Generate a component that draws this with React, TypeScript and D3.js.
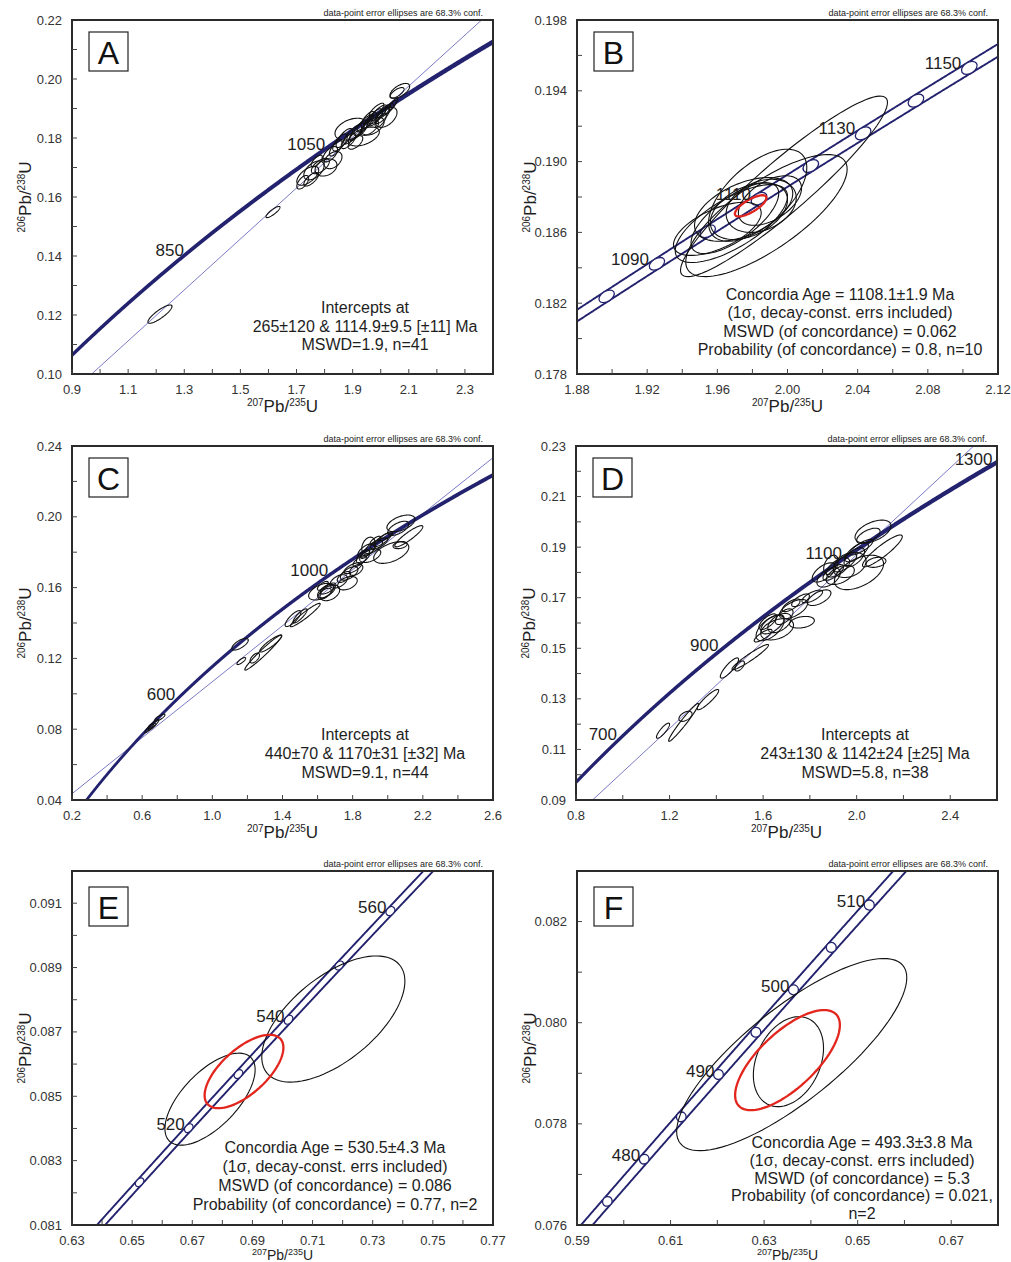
import React from "react";
import * as d3 from "d3";

// ---- decay constants (concordia definition) ----
const LAMBDA_238 = 1.55125e-10;
const LAMBDA_235 = 9.8485e-10;
const LAMBDA_235_ERR = 1.65e-12;

// ================= Panel A =================
const A_X_DOMAIN = [0.9, 2.4];
const A_Y_DOMAIN = [0.1, 0.22];
const A_X_TICKS = [0.9, 1.0, 1.1, 1.2, 1.3, 1.4, 1.5, 1.6, 1.7, 1.8, 1.9, 2.0, 2.1, 2.2, 2.3];
const A_X_LABELS = [0.9, 1.1, 1.3, 1.5, 1.7, 1.9, 2.1, 2.3];
const A_Y_TICKS = [0.11, 0.12, 0.13, 0.14, 0.15, 0.16, 0.17, 0.18, 0.19, 0.2, 0.21];
const A_Y_LABELS = [0.1, 0.12, 0.14, 0.16, 0.18, 0.2, 0.22];
const A_AGE_LABELS = [850, 1050];
const A_INTERCEPTS = [265, 1114.9];
const A_ELLIPSES = [
  [1.2135, 0.1203, 0.043, 0.0031, 0.85],
  [1.616, 0.1549, 0.025, 0.0019, 0.85],
  [1.722, 0.165, 0.021, 0.0023, 0.6],
  [1.74, 0.1672, 0.039, 0.0032, 0.6],
  [1.752, 0.166, 0.026, 0.0023, 0.7],
  [1.762, 0.169, 0.036, 0.0032, 0.5],
  [1.785, 0.1705, 0.032, 0.0026, 0.6],
  [1.772, 0.1722, 0.02, 0.002, 0.7],
  [1.805, 0.17, 0.039, 0.0029, 0.3],
  [1.83, 0.1725, 0.032, 0.0029, 0.4],
  [1.82, 0.1745, 0.026, 0.0026, 0.6],
  [1.84, 0.1765, 0.023, 0.0026, 0.7],
  [1.855, 0.1785, 0.026, 0.0029, 0.7],
  [1.87, 0.18, 0.029, 0.0032, 0.75],
  [1.894, 0.183, 0.057, 0.0037, 0.4],
  [1.885, 0.179, 0.026, 0.0026, 0.7],
  [1.9, 0.1812, 0.032, 0.0032, 0.8],
  [1.915, 0.182, 0.026, 0.0029, 0.8],
  [1.94, 0.1805, 0.055, 0.0032, 0.5],
  [1.93, 0.1835, 0.026, 0.0026, 0.75],
  [1.945, 0.185, 0.029, 0.0029, 0.8],
  [1.955, 0.187, 0.02, 0.002, 0.8],
  [1.962, 0.186, 0.023, 0.0026, 0.8],
  [1.972, 0.184, 0.04, 0.003, 0.5],
  [1.98, 0.187, 0.026, 0.0029, 0.7],
  [1.99, 0.188, 0.032, 0.0032, 0.8],
  [2.0, 0.186, 0.02, 0.0023, 0.7],
  [2.005, 0.1875, 0.026, 0.0026, 0.75],
  [2.02, 0.187, 0.038, 0.0034, 0.5],
  [2.012, 0.189, 0.023, 0.0023, 0.8],
  [2.025, 0.1897, 0.02, 0.002, 0.8],
  [2.035, 0.1905, 0.02, 0.0023, 0.85],
  [2.045, 0.1915, 0.016, 0.002, 0.85],
  [2.068, 0.196, 0.035, 0.0025, 0.6],
  [2.058, 0.1953, 0.025, 0.0018, 0.7],
  [1.985, 0.1895, 0.026, 0.0023, 0.8],
  [1.96, 0.1835, 0.032, 0.0026, 0.6],
  [1.91, 0.1785, 0.026, 0.0023, 0.6],
];
const A_NOTE = ["Intercepts at", "265\u00b1120 & 1114.9\u00b19.5 [\u00b111] Ma", "MSWD=1.9, n=41"];

// ================= Panel B =================
const B_X_DOMAIN = [1.88, 2.12];
const B_Y_DOMAIN = [0.178, 0.198];
const B_X_TICKS = [1.88, 1.9, 1.92, 1.94, 1.96, 1.98, 2.0, 2.02, 2.04, 2.06, 2.08, 2.1];
const B_X_LABELS = [1.88, 1.92, 1.96, 2.0, 2.04, 2.08, 2.12];
const B_Y_TICKS = [0.18, 0.182, 0.184, 0.186, 0.188, 0.19, 0.192, 0.194, 0.196];
const B_Y_LABELS = [0.178, 0.182, 0.186, 0.19, 0.194, 0.198];
const B_MARKER_AGES = [1080, 1090, 1100, 1110, 1120, 1130, 1140, 1150];
const B_AGE_LABELS = [1090, 1110, 1130, 1150];
const B_ELLIPSES = [
  [1.998, 0.1886, 0.059, 0.0051, 0.93],
  [1.988, 0.18695, 0.046, 0.00345, 0.76],
  [1.983, 0.1881, 0.028, 0.0026, 0.6],
  [1.975, 0.1873, 0.028, 0.0018, 0.5],
  [1.978, 0.1872, 0.022, 0.0016, 0.4],
  [1.985, 0.1875, 0.02, 0.0015, 0.3],
  [1.97, 0.1868, 0.025, 0.002, 0.7],
  [1.968, 0.1865, 0.032, 0.0022, 0.7],
  [1.96, 0.1862, 0.025, 0.0015, 0.6],
  [1.99, 0.1878, 0.018, 0.0014, 0.5],
];
const B_RED = [[1.979, 0.1875, 0.009, 0.0006, 0.75]];
const B_NOTE = [
  "Concordia Age = 1108.1\u00b11.9 Ma",
  "(1\u03c3, decay-const. errs included)",
  "MSWD (of concordance) = 0.062",
  "Probability (of concordance) = 0.8, n=10",
];

// ================= Panel C =================
const C_X_DOMAIN = [0.2, 2.6];
const C_Y_DOMAIN = [0.04, 0.24];
const C_X_TICKS = [0.2, 0.4, 0.6, 0.8, 1.0, 1.2, 1.4, 1.6, 1.8, 2.0, 2.2, 2.4];
const C_X_LABELS = [0.2, 0.6, 1.0, 1.4, 1.8, 2.2, 2.6];
const C_Y_TICKS = [0.06, 0.08, 0.1, 0.12, 0.14, 0.16, 0.18, 0.2, 0.22];
const C_Y_LABELS = [0.04, 0.08, 0.12, 0.16, 0.2, 0.24];
const C_AGE_LABELS = [600, 1000];
const C_INTERCEPTS = [440, 1170];
const C_ELLIPSES = [
  [0.64, 0.0805, 0.025, 0.0025, 0.9],
  [0.665, 0.0825, 0.03, 0.003, 0.9],
  [0.7, 0.0865, 0.03, 0.002, 0.8],
  [0.655, 0.082, 0.02, 0.0015, 0.7],
  [1.158, 0.128, 0.047, 0.0033, 0.7],
  [1.165, 0.1185, 0.025, 0.002, 0.8],
  [1.242, 0.1202, 0.027, 0.0028, 0.6],
  [1.29, 0.1233, 0.105, 0.0099, 0.97],
  [1.333, 0.1284, 0.063, 0.0048, 0.9],
  [1.46, 0.1425, 0.045, 0.0045, 0.8],
  [1.5, 0.144, 0.04, 0.004, 0.85],
  [1.53, 0.1445, 0.085, 0.0066, 0.95],
  [1.62, 0.1577, 0.071, 0.0047, 0.5],
  [1.65, 0.158, 0.05, 0.0038, 0.6],
  [1.66, 0.1595, 0.044, 0.0031, 0.7],
  [1.64, 0.1565, 0.038, 0.0031, 0.6],
  [1.67, 0.157, 0.056, 0.0044, 0.4],
  [1.63, 0.161, 0.031, 0.0025, 0.7],
  [1.72, 0.1635, 0.05, 0.0038, 0.5],
  [1.75, 0.166, 0.038, 0.0031, 0.6],
  [1.77, 0.1625, 0.056, 0.0038, 0.4],
  [1.78, 0.168, 0.05, 0.0038, 0.6],
  [1.8, 0.171, 0.05, 0.0031, 0.7],
  [1.82, 0.17, 0.038, 0.0031, 0.5],
  [1.84, 0.175, 0.038, 0.0031, 0.7],
  [1.86, 0.1775, 0.038, 0.0038, 0.6],
  [1.88, 0.181, 0.05, 0.0038, 0.6],
  [1.89, 0.1835, 0.038, 0.005, 0.3],
  [1.9, 0.178, 0.06, 0.0038, 0.5],
  [1.92, 0.183, 0.05, 0.0038, 0.7],
  [1.95, 0.185, 0.05, 0.0031, 0.7],
  [1.97, 0.187, 0.05, 0.0038, 0.8],
  [1.99, 0.189, 0.038, 0.0025, 0.8],
  [2.02, 0.1798, 0.1, 0.0061, 0.5],
  [2.075, 0.1963, 0.08, 0.0047, 0.5],
  [2.06, 0.1935, 0.06, 0.004, 0.6],
  [2.12, 0.189, 0.08, 0.006, 0.9],
  [2.07, 0.184, 0.04, 0.002, 0.3],
  [1.87, 0.179, 0.025, 0.0025, 0.6],
  [1.93, 0.1865, 0.031, 0.0025, 0.7],
];
const C_NOTE = ["Intercepts at", "440\u00b170 & 1170\u00b131 [\u00b132] Ma", "MSWD=9.1, n=44"];

// ================= Panel D =================
const D_X_DOMAIN = [0.8, 2.6];
const D_Y_DOMAIN = [0.09, 0.23];
const D_X_TICKS = [0.8, 1.0, 1.2, 1.4, 1.6, 1.8, 2.0, 2.2, 2.4];
const D_X_LABELS = [0.8, 1.2, 1.6, 2.0, 2.4];
const D_Y_TICKS = [0.1, 0.11, 0.12, 0.13, 0.14, 0.15, 0.16, 0.17, 0.18, 0.19, 0.2, 0.21, 0.22];
const D_Y_LABELS = [0.09, 0.11, 0.13, 0.15, 0.17, 0.19, 0.21, 0.23];
const D_AGE_LABELS = [700, 900, 1100, 1300];
const D_INTERCEPTS = [243, 1142];
const D_ELLIPSES = [
  [1.172, 0.1174, 0.028, 0.003, 0.85],
  [1.26, 0.1207, 0.064, 0.0075, 0.97],
  [1.268, 0.1231, 0.028, 0.002, 0.5],
  [1.364, 0.1297, 0.046, 0.004, 0.9],
  [1.456, 0.1422, 0.039, 0.004, 0.85],
  [1.545, 0.1465, 0.078, 0.005, 0.95],
  [1.5, 0.143, 0.02, 0.002, 0.6],
  [1.63, 0.158, 0.06, 0.005, 0.6],
  [1.66, 0.1575, 0.07, 0.0042, 0.4],
  [1.64, 0.1595, 0.05, 0.0038, 0.6],
  [1.62, 0.1605, 0.038, 0.0031, 0.7],
  [1.67, 0.16, 0.05, 0.0038, 0.5],
  [1.6, 0.155, 0.038, 0.0025, 0.8],
  [1.73, 0.1655, 0.06, 0.0038, 0.6],
  [1.766, 0.1603, 0.053, 0.0023, 0.3],
  [1.72, 0.167, 0.038, 0.0025, 0.7],
  [1.81, 0.1705, 0.044, 0.0025, 0.7],
  [1.84, 0.17, 0.05, 0.0031, 0.6],
  [1.86, 0.18, 0.05, 0.0038, 0.6],
  [1.88, 0.178, 0.05, 0.0038, 0.5],
  [1.9, 0.18, 0.044, 0.0031, 0.7],
  [1.92, 0.182, 0.05, 0.0038, 0.6],
  [1.93, 0.179, 0.06, 0.0038, 0.5],
  [1.95, 0.184, 0.05, 0.0038, 0.7],
  [1.97, 0.183, 0.07, 0.005, 0.3],
  [1.89, 0.183, 0.031, 0.0038, 0.4],
  [2.01, 0.18, 0.105, 0.0068, 0.5],
  [2.11, 0.1885, 0.085, 0.0063, 0.9],
  [2.083, 0.184, 0.042, 0.002, 0.3],
  [2.07, 0.1962, 0.077, 0.0045, 0.5],
  [2.05, 0.1945, 0.05, 0.003, 0.6],
  [2.0, 0.188, 0.05, 0.0038, 0.7],
  [2.02, 0.19, 0.05, 0.0031, 0.8],
  [1.99, 0.186, 0.044, 0.0038, 0.6],
  [1.76, 0.169, 0.038, 0.0025, 0.7],
  [1.69, 0.1625, 0.038, 0.0031, 0.6],
];
const D_NOTE = ["Intercepts at", "243\u00b1130 & 1142\u00b124 [\u00b125] Ma", "MSWD=5.8, n=38"];

// ================= Panel E =================
const E_X_DOMAIN = [0.63, 0.77];
const E_Y_DOMAIN = [0.081, 0.092];
const E_X_TICKS = [0.63, 0.64, 0.65, 0.66, 0.67, 0.68, 0.69, 0.7, 0.71, 0.72, 0.73, 0.74, 0.75, 0.76];
const E_X_LABELS = [0.63, 0.65, 0.67, 0.69, 0.71, 0.73, 0.75, 0.77];
const E_Y_TICKS = [0.082, 0.083, 0.084, 0.085, 0.086, 0.087, 0.088, 0.089, 0.09, 0.091];
const E_Y_LABELS = [0.081, 0.083, 0.085, 0.087, 0.089, 0.091];
const E_MARKER_AGES = [510, 520, 530, 540, 550, 560];
const E_AGE_LABELS = [520, 540, 560];
const E_ELLIPSES = [
  [0.7169, 0.0874, 0.0238, 0.00196, 0.6],
  [0.6759, 0.08491, 0.015, 0.00143, 0.64],
];
const E_RED = [[0.6872, 0.08577, 0.0131, 0.00114, 0.65]];
const E_NOTE = [
  "Concordia Age = 530.5\u00b14.3 Ma",
  "(1\u03c3, decay-const. errs included)",
  "MSWD (of concordance) = 0.086",
  "Probability (of concordance) = 0.77, n=2",
];

// ================= Panel F =================
const F_X_DOMAIN = [0.59, 0.68];
const F_Y_DOMAIN = [0.076, 0.083];
const F_X_TICKS = [0.59, 0.6, 0.61, 0.62, 0.63, 0.64, 0.65, 0.66, 0.67];
const F_X_LABELS = [0.59, 0.61, 0.63, 0.65, 0.67];
const F_Y_TICKS = [0.077, 0.078, 0.079, 0.08, 0.081, 0.082];
const F_Y_LABELS = [0.076, 0.078, 0.08, 0.082];
const F_MARKER_AGES = [475, 480, 485, 490, 495, 500, 505, 510];
const F_AGE_LABELS = [480, 490, 500, 510];
const F_ELLIPSES = [
  [0.6359, 0.07937, 0.0246, 0.0019, 0.8],
  [0.6352, 0.07923, 0.0075, 0.00089, 0.3],
];
const F_RED = [[0.635, 0.07926, 0.0112, 0.00099, 0.7]];
const F_NOTE = [
  "Concordia Age = 493.3\u00b13.8 Ma",
  "(1\u03c3, decay-const. errs included)",
  "MSWD (of concordance) = 5.3",
  "Probability (of concordance) = 0.021,",
  "n=2",
];

const CONF_TEXT = "data-point error ellipses are 68.3% conf.";

// ---- styles ----
const FONT = "'Liberation Sans', Arial, Helvetica, sans-serif";
const NAVY = "#23226e";
const DISC = "#6b6bbf";
const RED = "#e3261d";
const INK = "#1e1e1e";

const PANELS = [
  {
    id: "A", left: 72, top: 20, letterDy: 12, xDomain: A_X_DOMAIN, yDomain: A_Y_DOMAIN,
    xTicks: A_X_TICKS, xLabels: A_X_LABELS, yTicks: A_Y_TICKS, yLabels: A_Y_LABELS, xDec: 1, yDec: 2,
    ellipses: A_ELLIPSES, red: [], intercepts: A_INTERCEPTS, markerAges: [], labelAges: A_AGE_LABELS,
    note: A_NOTE, noteX: 293, noteY: 293, noteLh: 18.7, labelDx: -3, labelDy: 3, thick: true, markerSemi: 0,
    titleDy: 38, titleSize: 17, titleSup: 10,
  },
  {
    id: "B", left: 577, top: 20, letterDy: 12, xDomain: B_X_DOMAIN, yDomain: B_Y_DOMAIN,
    xTicks: B_X_TICKS, xLabels: B_X_LABELS, yTicks: B_Y_TICKS, yLabels: B_Y_LABELS, xDec: 2, yDec: 3,
    ellipses: B_ELLIPSES, red: B_RED, intercepts: null, markerAges: B_MARKER_AGES, labelAges: B_AGE_LABELS,
    note: B_NOTE, noteX: 263, noteY: 280, noteLh: 18.4, labelDx: -8, labelDy: 1, thick: false, markerSemi: 8.5,
    titleDy: 38, titleSize: 17, titleSup: 10,
  },
  {
    id: "C", left: 72, top: 446, letterDy: 12, xDomain: C_X_DOMAIN, yDomain: C_Y_DOMAIN,
    xTicks: C_X_TICKS, xLabels: C_X_LABELS, yTicks: C_Y_TICKS, yLabels: C_Y_LABELS, xDec: 1, yDec: 2,
    ellipses: C_ELLIPSES, red: [], intercepts: C_INTERCEPTS, markerAges: [], labelAges: C_AGE_LABELS,
    note: C_NOTE, noteX: 293, noteY: 294, noteLh: 18.8, labelDx: -3, labelDy: 2, thick: true, markerSemi: 0,
    titleDy: 38, titleSize: 17, titleSup: 10,
  },
  {
    id: "D", left: 576, top: 446, letterDy: 12, xDomain: D_X_DOMAIN, yDomain: D_Y_DOMAIN,
    xTicks: D_X_TICKS, xLabels: D_X_LABELS, yTicks: D_Y_TICKS, yLabels: D_Y_LABELS, xDec: 1, yDec: 2,
    ellipses: D_ELLIPSES, red: [], intercepts: D_INTERCEPTS, markerAges: [], labelAges: D_AGE_LABELS,
    note: D_NOTE, noteX: 289, noteY: 294, noteLh: 18.8, labelDx: -4, labelDy: 2, thick: true, markerSemi: 0,
    titleDy: 38, titleSize: 17, titleSup: 10,
  },
  {
    id: "E", left: 72, top: 871, letterDy: 16, xDomain: E_X_DOMAIN, yDomain: E_Y_DOMAIN,
    xTicks: E_X_TICKS, xLabels: E_X_LABELS, yTicks: E_Y_TICKS, yLabels: E_Y_LABELS, xDec: 2, yDec: 3,
    ellipses: E_ELLIPSES, red: E_RED, intercepts: null, markerAges: E_MARKER_AGES, labelAges: E_AGE_LABELS,
    note: E_NOTE, noteX: 263, noteY: 281.5, noteLh: 19.3, labelDx: -4, labelDy: 2, thick: false, markerSemi: 5,
    titleDy: 34.5, titleSize: 14, titleSup: 9,
  },
  {
    id: "F", left: 577, top: 871, letterDy: 16, xDomain: F_X_DOMAIN, yDomain: F_Y_DOMAIN,
    xTicks: F_X_TICKS, xLabels: F_X_LABELS, yTicks: F_Y_TICKS, yLabels: F_Y_LABELS, xDec: 2, yDec: 3,
    ellipses: F_ELLIPSES, red: F_RED, intercepts: null, markerAges: F_MARKER_AGES, labelAges: F_AGE_LABELS,
    note: F_NOTE, noteX: 285, noteY: 277, noteLh: 17.75, labelDx: -4, labelDy: 2, thick: false, markerSemi: 5,
    titleDy: 34.5, titleSize: 14, titleSup: 9,
  },
];

const W = 421;
const H = 354;

function conc(t: number, dl = 0): [number, number] {
  return [Math.exp((LAMBDA_235 + dl) * t) - 1, Math.exp(LAMBDA_238 * t) - 1];
}

function ellipsePath(e: number[], xs: any, ys: any): string {
  const [cx, cy, sx, sy, r] = e;
  const k = Math.sqrt(1 - r * r);
  const pts: [number, number][] = d3.range(0, 96).map((i) => {
    const a = (i / 96) * 2 * Math.PI;
    return [xs(cx + sx * Math.cos(a)), ys(cy + sy * (r * Math.cos(a) + k * Math.sin(a)))];
  });
  return (d3.line()(pts) || "") + "Z";
}

function Panel({ p }: { p: any }) {
  const { left, top } = p;
  const xs = d3.scaleLinear().domain(p.xDomain).range([left, left + W]);
  const ys = d3.scaleLinear().domain(p.yDomain).range([top + H, top]);
  const tA =
    Math.min(Math.log(1 + p.xDomain[0]) / LAMBDA_235, Math.log(1 + p.yDomain[0]) / LAMBDA_238) * 0.9;
  const tB =
    Math.max(Math.log(1 + p.xDomain[1]) / LAMBDA_235, Math.log(1 + p.yDomain[1]) / LAMBDA_238) * 1.1;
  const ts = d3.range(0, 1201).map((i) => tA + ((tB - tA) * i) / 1200);
  const line = d3
    .line<[number, number]>()
    .x((d) => xs(d[0]))
    .y((d) => ys(d[1]));
  const upper = ts.map((t) => conc(t, -LAMBDA_235_ERR));
  const lower = ts.map((t) => conc(t, LAMBDA_235_ERR));
  const clipId = `clip-${p.id}`;

  let disc: string | null = null;
  if (p.intercepts) {
    const [a, b] = p.intercepts.map((t: number) => conc(t * 1e6));
    const m = (b[1] - a[1]) / (b[0] - a[0]);
    const x0 = p.xDomain[0] - 1;
    const x1 = p.xDomain[1] + 1;
    disc = line([
      [x0, a[1] + m * (x0 - a[0])],
      [x1, a[1] + m * (x1 - a[0])],
    ]);
  }

  const markers = p.markerAges.map((age: number) => {
    const t = age * 1e6;
    const p1 = conc(t, -LAMBDA_235_ERR);
    const p2 = conc(t, LAMBDA_235_ERR);
    const a = [xs(p1[0]), ys(p1[1])];
    const b = [xs(p2[0]), ys(p2[1])];
    const c0 = conc(t - 1e6);
    const c1 = conc(t + 1e6);
    const dx = xs(c1[0]) - xs(c0[0]);
    const dy = ys(c1[1]) - ys(c0[1]);
    const len = Math.hypot(dx, dy);
    const ux = dx / len;
    const uy = dy / len;
    const perp = Math.abs((b[0] - a[0]) * -uy + (b[1] - a[1]) * ux) / 2;
    return {
      cx: (a[0] + b[0]) / 2,
      cy: (a[1] + b[1]) / 2,
      rx: p.markerSemi,
      ry: perp + 0.2,
      angle: (Math.atan2(uy, ux) * 180) / Math.PI,
      age,
    };
  });

  const fmtX = (v: number) => v.toFixed(p.xDec);
  const fmtY = (v: number) => v.toFixed(p.yDec);
  const supShift = Math.round(p.titleSize * 0.36);

  return (
    <g>
      <defs>
        <clipPath id={clipId}>
          <rect x={left} y={top} width={W} height={H} />
        </clipPath>
      </defs>
      <rect x={left} y={top} width={W} height={H} fill="#fff" />
      <g clipPath={`url(#${clipId})`}>
        {disc && <path d={disc} stroke={DISC} strokeWidth={0.9} fill="none" />}
        {p.thick ? (
          <path
            d={(line(upper.concat(lower.slice().reverse())) || "") + "Z"}
            fill={NAVY}
            stroke={NAVY}
            strokeWidth={2.6}
            strokeLinejoin="round"
          />
        ) : (
          <g>
            <path d={line(upper) || ""} fill="none" stroke={NAVY} strokeWidth={1.9} />
            <path d={line(lower) || ""} fill="none" stroke={NAVY} strokeWidth={1.9} />
            {markers.map((m: any, i: number) => (
              <ellipse
                key={i}
                cx={0}
                cy={0}
                rx={m.rx}
                ry={m.ry}
                transform={`translate(${m.cx},${m.cy}) rotate(${m.angle})`}
                fill="#fff"
                stroke={NAVY}
                strokeWidth={1.3}
              />
            ))}
          </g>
        )}
        {p.ellipses.map((e: number[], i: number) => (
          <path key={i} d={ellipsePath(e, xs, ys)} fill="none" stroke="#111" strokeWidth={1.1} />
        ))}
        {p.red.map((e: number[], i: number) => (
          <path key={`r${i}`} d={ellipsePath(e, xs, ys)} fill="none" stroke={RED} strokeWidth={2.3} />
        ))}
      </g>
      {/* age labels */}
      {p.labelAges.map((age: number) => {
        const c = conc(age * 1e6);
        return (
          <text
            key={age}
            x={xs(c[0]) + p.labelDx}
            y={ys(c[1]) + p.labelDy}
            textAnchor="end"
            fontSize={17}
            fill={INK}
            fontFamily={FONT}
          >
            {age}
          </text>
        );
      })}
      {/* frame */}
      <rect x={left} y={top} width={W} height={H} fill="none" stroke="#2b2b2b" strokeWidth={2} />
      {/* ticks */}
      {p.xTicks.map((v: number) => (
        <line key={`xt${v}`} x1={xs(v)} x2={xs(v)} y1={top + H} y2={top + H - 5} stroke="#444" strokeWidth={1} />
      ))}
      {p.yTicks.map((v: number) => (
        <line key={`yt${v}`} x1={left} x2={left + 5} y1={ys(v)} y2={ys(v)} stroke="#444" strokeWidth={1} />
      ))}
      {p.xLabels.map((v: number) => (
        <text key={`xl${v}`} x={xs(v)} y={top + H + 20} textAnchor="middle" fontSize={13} fill="#333" fontFamily={FONT}>
          {fmtX(v)}
        </text>
      ))}
      {p.yLabels.map((v: number) => (
        <text key={`yl${v}`} x={left - 10} y={ys(v) + 4.5} textAnchor="end" fontSize={13} fill="#333" fontFamily={FONT}>
          {fmtY(v)}
        </text>
      ))}
      {/* axis titles */}
      <text x={left + W / 2} y={top + H + p.titleDy} textAnchor="middle" fontFamily={FONT} fill={INK}>
        <tspan fontSize={p.titleSup} dy={-supShift}>207</tspan>
        <tspan fontSize={p.titleSize} dy={supShift}>Pb/</tspan>
        <tspan fontSize={p.titleSup} dy={-supShift}>235</tspan>
        <tspan fontSize={p.titleSize} dy={supShift}>U</tspan>
      </text>
      <text
        transform={`translate(${left - 41},${top + H / 2}) rotate(-90)`}
        textAnchor="middle"
        fontFamily={FONT}
        fill={INK}
      >
        <tspan fontSize={10} dy={-6}>206</tspan>
        <tspan fontSize={17} dy={6}>Pb/</tspan>
        <tspan fontSize={10} dy={-6}>238</tspan>
        <tspan fontSize={17} dy={6}>U</tspan>
      </text>
      {/* conf note */}
      <text x={left + W - 10} y={top - 4} textAnchor="end" fontSize={9} fill="#222" fontFamily={FONT}>
        {CONF_TEXT}
      </text>
      {/* panel letter */}
      <rect x={left + 17} y={top + p.letterDy} width={39} height={39} fill="#fff" stroke="#222" strokeWidth={1.2} />
      <text
        x={left + 17 + 19.5}
        y={top + p.letterDy + 31.5}
        textAnchor="middle"
        fontSize={32}
        fill="#111"
        fontFamily={FONT}
      >
        {p.id}
      </text>
      {/* result note */}
      {p.note.map((s: string, i: number) => (
        <text
          key={i}
          x={left + p.noteX}
          y={top + p.noteY + i * p.noteLh}
          textAnchor="middle"
          fontSize={16}
          fill={INK}
          fontFamily={FONT}
        >
          {s}
        </text>
      ))}
    </g>
  );
}

export default function App() {
  return (
    <svg
      width={1011}
      height={1262}
      viewBox="0 0 1011 1262"
      style={{ position: "absolute", left: 0, top: 0, background: "#fff" }}
    >
      <rect x={0} y={0} width={1011} height={1262} fill="#fff" />
      {PANELS.map((p) => (
        <Panel key={p.id} p={p} />
      ))}
    </svg>
  );
}
